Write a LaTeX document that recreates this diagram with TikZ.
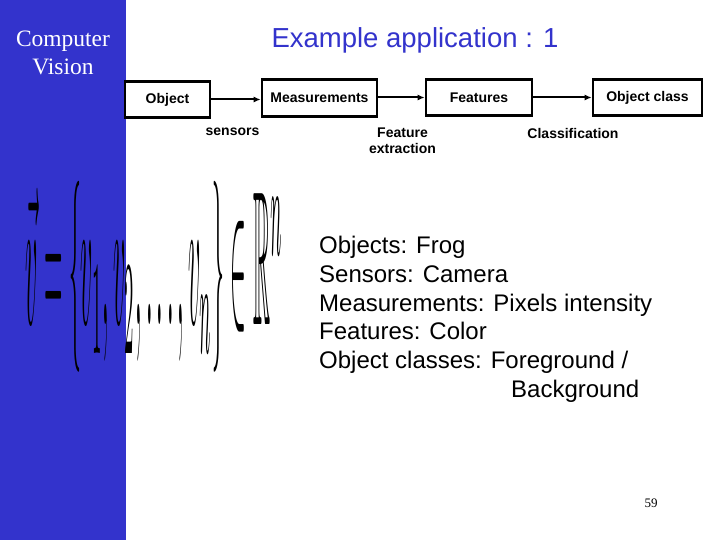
\documentclass[tikz,border=0pt]{standalone}
\usepackage{fontspec}
\usepackage{amsmath,amssymb}
\usepackage{graphicx}
\setmainfont{Liberation Serif}
\newfontfamily\arial{Liberation Sans}
\usetikzlibrary{arrows.meta}
\definecolor{barblue}{RGB}{51,51,204}
\tikzset{
  box/.style={draw, line width=2.6pt, inner sep=0pt, font=\arial\fontsize{14}{16}\selectfont\bfseries},
  lbl/.style={font=\arial\fontsize{14}{16}\selectfont\bfseries, align=center, inner sep=0pt},
  arr/.style={line width=2pt, -{Latex[length=7pt,width=6pt]}},
  bullet/.style={font=\arial\fontsize{24}{28.8}\selectfont, anchor=base west, inner sep=0pt}
}
\begin{document}
\begin{tikzpicture}[x=1pt,y=-1pt]
\useasboundingbox (0,0) rectangle (720,540);
\fill[white] (0,0) rectangle (720,540);
\fill[barblue] (0,0) rectangle (126,540);
\node[font=\fontsize{23.5}{28}\selectfont, text=white, align=center, inner sep=0pt] (cv) at (63,53) {Computer\\Vision};
\node[font=\arial\fontsize{27.5}{32}\selectfont, text=barblue, inner sep=0pt] (title) at (415,40) {Example application : 1};
% pipeline
\node[box, minimum width=85pt, minimum height=36pt] (obj) at (167.5,99.5) {Object};
\node[box, minimum width=115pt, minimum height=37pt] (meas) at (319.5,98) {Measurements};
\node[box, minimum width=106pt, minimum height=36pt] (feat) at (479,97.5) {Features};
\node[box, minimum width=109pt, minimum height=36pt] (cls) at (647.5,97.5) {Object class};
\draw[arr] (obj.east) -- (obj.east -| meas.west);
\draw[arr] (meas.east |- feat.west) -- (feat.west);
\draw[arr] (feat.east) -- (cls.west);
\node[lbl] (sens) at (232.5,132) {sensors};
\node[lbl] (fext) at (402.5,140.5) {Feature\\extraction};
\node[lbl] (clsf) at (573,133) {Classification};
% formula
\node[inner sep=0pt, anchor=north west] (formula) at (25,181) {\resizebox*{258pt}{191pt}{$\vec{v}=\{v_1,v_2,\ldots,v_n\}\in\mathbb{R}^n$}};
% bullet text
\node[bullet] (t1) at (319,253.5) {Objects: Frog};
\node[bullet] (t2) at (319,282.5) {Sensors: Camera};
\node[bullet] (t3) at (319,311) {Measurements: Pixels intensity};
\node[bullet] (t4) at (319,339.5) {Features: Color};
\node[bullet] (t5) at (319,368.5) {Object classes: Foreground /};
\node[bullet] (t6) at (511,397.5) {Background};
\node[font=\fontsize{13}{15}\selectfont, inner sep=0pt] (pg) at (651,503) {59};
\end{tikzpicture}
\end{document}
